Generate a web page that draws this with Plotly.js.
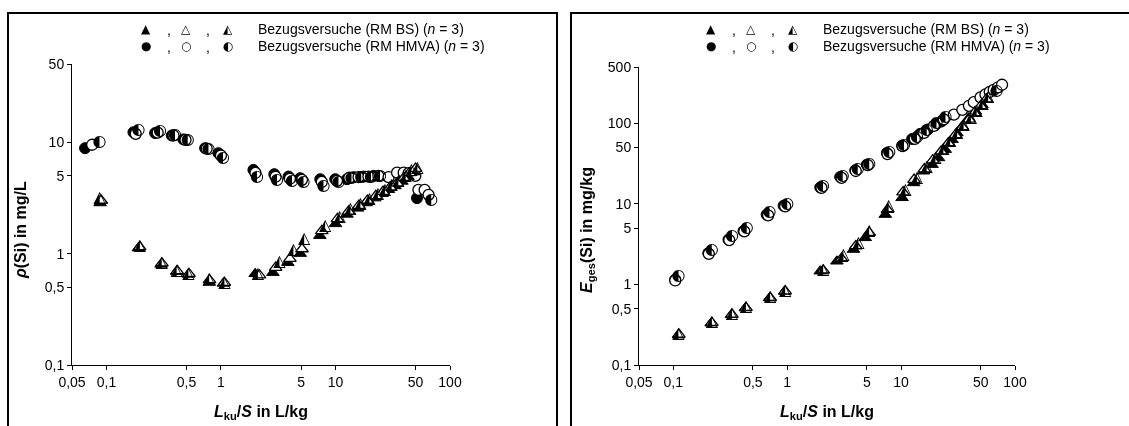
<!DOCTYPE html>
<html>
<head>
<meta charset="utf-8">
<script src="https://cdn.plot.ly/plotly-3.0.1.min.js"></script>
<style>
  html, body { margin: 0; padding: 0; background: #fff; }
  /* black-and-white figure: keep glyph antialiasing neutral grey */
  #chart { width: 1129px; height: 426px; filter: grayscale(100%); }
</style>
</head>
<body>
<div id="chart"></div>
<script>
// ---- Silicon leaching, reference tests (RM BS = triangles, RM HMVA = circles) ----
// Replicate a = filled marker, b = open marker, c = half-filled marker

// Left panel: concentration rho(Si) in mg/L versus L/S
const rhoBS_a_ls = [0.088, 0.19, 0.30, 0.41, 0.52, 0.79, 1.05, 1.99, 2.84, 3.84, 4.92, 7.3, 10.0, 12.6, 15.6, 18.5, 22, 25.5, 29, 33, 38, 43, 48];
const rhoBS_a    = [2.85, 1.12, 0.80, 0.69, 0.65, 0.55, 0.54, 0.66, 0.675, 0.83, 1.0, 1.45, 1.85, 2.25, 2.55, 2.85, 3.15, 3.45, 3.75, 4.05, 4.45, 4.9, 5.4];
const rhoBS_b_ls = [0.09, 0.195, 0.305, 0.415, 0.525, 0.795, 1.07, 2.17, 3.0, 4.0, 5.1, 7.6, 10.4, 13.0, 16.0, 19.0, 22.5, 26, 30, 34.5, 39.5, 44, 50];
const rhoBS_b    = [3.0, 1.15, 0.82, 0.70, 0.66, 0.58, 0.55, 0.64, 0.75, 0.9, 1.1, 1.6, 2.05, 2.4, 2.7, 3.0, 3.3, 3.6, 3.95, 4.3, 4.8, 5.3, 5.8];
const rhoBS_c_ls = [0.087, 0.196, 0.304, 0.411, 0.52, 0.79, 1.07, 2.1, 3.24, 4.3, 5.33, 8.14, 10.9, 13.5, 16.5, 19.8, 23.5, 27, 31, 35.5, 41, 46, 52];
const rhoBS_c    = [3.15, 1.17, 0.83, 0.70, 0.657, 0.589, 0.549, 0.65, 0.847, 1.08, 1.35, 1.77, 2.15, 2.5, 2.8, 3.1, 3.4, 3.75, 4.1, 4.5, 5.0, 5.6, 5.9];

const rhoHM_a_ls = [0.065, 0.172, 0.266, 0.372, 0.47, 0.727, 0.95, 1.92, 2.92, 3.89, 4.92, 7.36, 9.95, 12.6, 14.4, 17.6, 21.5, 51.5];
const rhoHM_a    = [8.85, 12.3, 12.1, 11.5, 10.6, 8.85, 7.98, 5.65, 5.17, 4.92, 4.76, 4.66, 4.66, 4.66, 4.86, 4.92, 4.99, 3.15];
const rhoHM_b_ls = [0.075, 0.18, 0.28, 0.385, 0.49, 0.75, 1.0, 2.0, 3.0, 4.0, 5.1, 7.6, 10.3, 13.2, 15.9, 19.4, 23.7, 29.1, 34.5, 39.4, 43.5, 49.8, 53, 60, 65];
const rhoHM_b    = [9.5, 11.9, 12.2, 11.5, 10.5, 8.75, 7.6, 5.3, 4.9, 4.7, 4.6, 4.4, 4.5, 4.8, 4.86, 4.92, 4.99, 4.86, 5.33, 5.33, 5.28, 5.0, 3.74, 3.74, 3.37];
const rhoHM_c_ls = [0.087, 0.19, 0.294, 0.397, 0.513, 0.776, 1.04, 2.06, 3.08, 4.16, 5.26, 7.87, 10.6, 13.8, 16.8, 20.4, 24.5, 68.6];
const rhoHM_c    = [10.1, 13.0, 12.6, 11.6, 10.5, 8.65, 7.2, 4.92, 4.6, 4.53, 4.43, 4.08, 4.43, 4.75, 4.86, 4.92, 4.99, 3.04];

// Right panel: cumulative release E_ges(Si) in mg/kg versus L/S
const eBS_a_ls = [0.111, 0.215, 0.325, 0.43, 0.70, 0.95, 1.95, 2.73, 3.82, 4.84, 7.26, 10.2, 12.9, 15.7, 18.7, 21.3, 24.4, 28, 30.9, 34.3, 39.2, 44.9, 51.3];
const eBS_a    = [0.235, 0.33, 0.42, 0.51, 0.68, 0.82, 1.46, 1.94, 2.71, 3.79, 7.37, 11.9, 18.2, 25.4, 30.7, 37.2, 47.1, 62.6, 75.8, 91.5, 116, 141, 170];
const eBS_b_ls = [0.112, 0.218, 0.327, 0.435, 0.71, 0.96, 2.07, 3.0, 4.0, 5.25, 7.6, 10.4, 13.0, 16.0, 19.0, 22.5, 26, 30, 34.5, 39.5, 44, 50, 56];
const eBS_b    = [0.24, 0.335, 0.425, 0.514, 0.684, 0.826, 1.5, 2.1, 3.0, 4.4, 8.5, 14, 20, 27, 35, 45, 57, 72, 90, 112, 135, 165, 200];
const eBS_c_ls = [0.111, 0.218, 0.327, 0.435, 0.708, 0.96, 2.07, 3.12, 4.23, 5.25, 7.76, 10.9, 13.8, 16.8, 20, 23.5, 27, 31, 35.5, 41, 46, 52, 58];
const eBS_c    = [0.245, 0.34, 0.43, 0.52, 0.69, 0.83, 1.52, 2.29, 3.29, 4.58, 9.34, 15, 21, 28.5, 37, 48, 60, 76, 94, 118, 143, 175, 210];

const eHM_a_ls = [0.104, 0.203, 0.305, 0.413, 0.66, 0.93, 1.95, 2.92, 3.96, 5.0, 7.5, 10.2, 12.5, 14.7, 17.2, 20, 22.5, 51.6];
const eHM_a    = [1.15, 2.45, 3.6, 4.6, 7.37, 9.5, 16.0, 21.6, 26.1, 30.7, 42.9, 52.8, 63.9, 74, 84, 95, 105, 205];
const eHM_b_ls = [0.104, 0.205, 0.31, 0.42, 0.68, 0.96, 2.0, 3.0, 4.0, 5.1, 7.6, 10.3, 13.2, 15.9, 19.4, 23.7, 29.1, 34.5, 39.4, 43.5, 49.8, 55, 60, 65, 71, 77];
const eHM_b    = [1.12, 2.4, 3.55, 4.55, 7.2, 9.3, 15.8, 21, 25.6, 30.3, 41.5, 52, 64, 76, 93, 112, 128, 147, 165, 183, 210, 228, 245, 260, 280, 301];
const eHM_c_ls = [0.111, 0.218, 0.327, 0.442, 0.70, 1.0, 2.06, 3.08, 4.16, 5.26, 7.87, 10.6, 13.8, 16.8, 20.4, 24.5, 68.6];
const eHM_c    = [1.27, 2.71, 3.97, 5.04, 7.9, 10.1, 16.6, 22.1, 26.8, 31.4, 43.5, 54.5, 68, 83, 100, 120, 255];

// Axis ticks
const xTickVals = [0.05, 0.1, 0.5, 1, 5, 10, 50, 100];
const xTickText = ['0,05', '0,1', '0,5', '1', '5', '10', '50', '100'];
const yLeftTickVals = [0.1, 0.5, 1, 5, 10, 50];
const yLeftTickText = ['0,1', '0,5', '1', '5', '10', '50'];
const yRightTickVals = [0.1, 0.5, 1, 5, 10, 50, 100, 500];
const yRightTickText = ['0,1', '0,5', '1', '5', '10', '50', '100', '500'];

// ---- page geometry (pixels) ----
const W = 1129, H = 426;
const px = v => v / W;
const py = v => 1 - v / H;

const MS = 11;          // marker size
const GLYPH = 16;       // half-filled glyph font size
const glyphFont = 'DejaVu Sans';

function filled(x, y, sym, xa, ya) {
  return { x, y, xaxis: xa, yaxis: ya, type: 'scatter', mode: 'markers', showlegend: false, hoverinfo: 'skip',
    marker: { symbol: sym, size: MS, color: '#000', line: { color: '#000', width: 1 } } };
}
function hollow(x, y, sym, xa, ya) {
  return { x, y, xaxis: xa, yaxis: ya, type: 'scatter', mode: 'markers', showlegend: false, hoverinfo: 'skip',
    marker: { symbol: sym, size: MS, color: '#fff', line: { color: '#000', width: 1.3 } } };
}
function half(x, y, glyph, xa, ya) {
  return { x, y, xaxis: xa, yaxis: ya, type: 'scatter', mode: 'text', showlegend: false, hoverinfo: 'skip',
    text: x.map(() => glyph), textposition: 'middle center',
    textfont: { family: glyphFont, size: GLYPH, color: '#000', weight: 'bold' } };
}

const data = [
  // left panel
  filled(rhoHM_a_ls, rhoHM_a, 'circle', 'x', 'y'),
  hollow(rhoHM_b_ls, rhoHM_b, 'circle', 'x', 'y'),
  half(rhoHM_c_ls, rhoHM_c, '\u25D0', 'x', 'y'),
  filled(rhoBS_a_ls, rhoBS_a, 'triangle-up', 'x', 'y'),
  hollow(rhoBS_b_ls, rhoBS_b, 'triangle-up', 'x', 'y'),
  half(rhoBS_c_ls, rhoBS_c, '\u25ED', 'x', 'y'),
  // right panel
  filled(eHM_a_ls, eHM_a, 'circle', 'x2', 'y2'),
  hollow(eHM_b_ls, eHM_b, 'circle', 'x2', 'y2'),
  half(eHM_c_ls, eHM_c, '\u25D0', 'x2', 'y2'),
  filled(eBS_a_ls, eBS_a, 'triangle-up', 'x2', 'y2'),
  hollow(eBS_b_ls, eBS_b, 'triangle-up', 'x2', 'y2'),
  half(eBS_c_ls, eBS_c, '\u25ED', 'x2', 'y2')
];

const baseFont = { family: 'Liberation Sans, Arial, sans-serif', size: 14, color: '#000' };

function xAxis(domain, anchor) {
  return { type: 'log', domain, anchor, range: [Math.log10(0.05), Math.log10(100)],
    tickvals: xTickVals, ticktext: xTickText, ticks: 'outside', ticklen: 4, tickwidth: 1, tickcolor: '#000',
    showline: true, linecolor: '#000', linewidth: 1, showgrid: false, zeroline: false,
    tickfont: baseFont, fixedrange: true };
}
function yAxis(domain, anchor, top, vals, text) {
  return { type: 'log', domain, anchor, range: [-1, Math.log10(top)],
    tickvals: vals, ticktext: text, ticks: 'outside', ticklen: 4, tickwidth: 1, tickcolor: '#000',
    showline: true, linecolor: '#000', linewidth: 1, showgrid: false, zeroline: false,
    tickfont: baseFont, fixedrange: true };
}

// legend: three symbols separated by commas, then the label
const legendRows = [
  { syms: ['\u25B2', '\u25B3', '\u25ED'], txt: 'Bezugsversuche (RM BS) (<i>n</i> = 3)', y: 29 },
  { syms: ['\u25CF', '\u25CB', '\u25D0'], txt: 'Bezugsversuche (RM HMVA) (<i>n</i> = 3)', y: 46 }
];
const symX = [146, 186, 228];
const commaX = [169, 208];

const annotations = [];
[0, 565].forEach(off => {
  legendRows.forEach(r => {
    r.syms.forEach((s, i) => annotations.push({ xref: 'paper', yref: 'paper', x: px(off + symX[i]), y: py(r.y),
      xanchor: 'center', yanchor: 'middle', text: i === 2 ? '<b>' + s + '</b>' : s, showarrow: false,
      font: { family: glyphFont, size: 12, color: '#000' } }));
    commaX.forEach(cx => annotations.push({ xref: 'paper', yref: 'paper', x: px(off + cx), y: py(r.y + 1),
      xanchor: 'center', yanchor: 'middle', text: ',', showarrow: false, font: baseFont }));
    annotations.push({ xref: 'paper', yref: 'paper', x: px(off + 256), y: py(r.y), xanchor: 'left', yanchor: 'middle',
      text: r.txt, showarrow: false, font: baseFont });
  });
});
// axis titles
const titleFont = { family: baseFont.family, size: 16, color: '#000' };
annotations.push({ xref: 'paper', yref: 'paper', x: px(261), y: py(412), xanchor: 'center', yanchor: 'middle', showarrow: false,
  text: '<b><i>L</i><sub>ku</sub>/<i>S</i> in L/kg</b>', font: titleFont });
annotations.push({ xref: 'paper', yref: 'paper', x: px(827), y: py(412), xanchor: 'center', yanchor: 'middle', showarrow: false,
  text: '<b><i>L</i><sub>ku</sub>/<i>S</i> in L/kg</b>', font: titleFont });
annotations.push({ xref: 'paper', yref: 'paper', x: px(20), y: py(230), xanchor: 'center', yanchor: 'middle', showarrow: false,
  textangle: -90, text: '<b><i>\u03C1</i>(Si) in mg/L</b>', font: titleFont });
annotations.push({ xref: 'paper', yref: 'paper', x: px(587), y: py(230), xanchor: 'center', yanchor: 'middle', showarrow: false,
  textangle: -90, text: '<b><i>E</i><sub>ges</sub>(Si) in mg/kg</b>', font: titleFont });

const shapes = [
  { type: 'rect', xref: 'paper', yref: 'paper', x0: px(8), x1: px(557), y0: py(440), y1: py(13), line: { color: '#000', width: 2 }, layer: 'below' },
  { type: 'rect', xref: 'paper', yref: 'paper', x0: px(571), x1: px(1140), y0: py(440), y1: py(13), line: { color: '#000', width: 2 }, layer: 'below' }
];

const layout = {
  width: W, height: H, margin: { l: 0, r: 0, t: 0, b: 0 },
  paper_bgcolor: '#fff', plot_bgcolor: 'rgba(0,0,0,0)', showlegend: false,
  font: baseFont,
  xaxis: xAxis([px(72), px(450)], 'y'),
  yaxis: yAxis([py(365), py(64.4)], 'x', 50, yLeftTickVals, yLeftTickText),
  xaxis2: xAxis([px(639), px(1015)], 'y2'),
  yaxis2: yAxis([py(365), py(67)], 'x2', 500, yRightTickVals, yRightTickText),
  annotations, shapes
};

Plotly.newPlot('chart', data, layout, { staticPlot: true, displayModeBar: false });
</script>
</body>
</html>
